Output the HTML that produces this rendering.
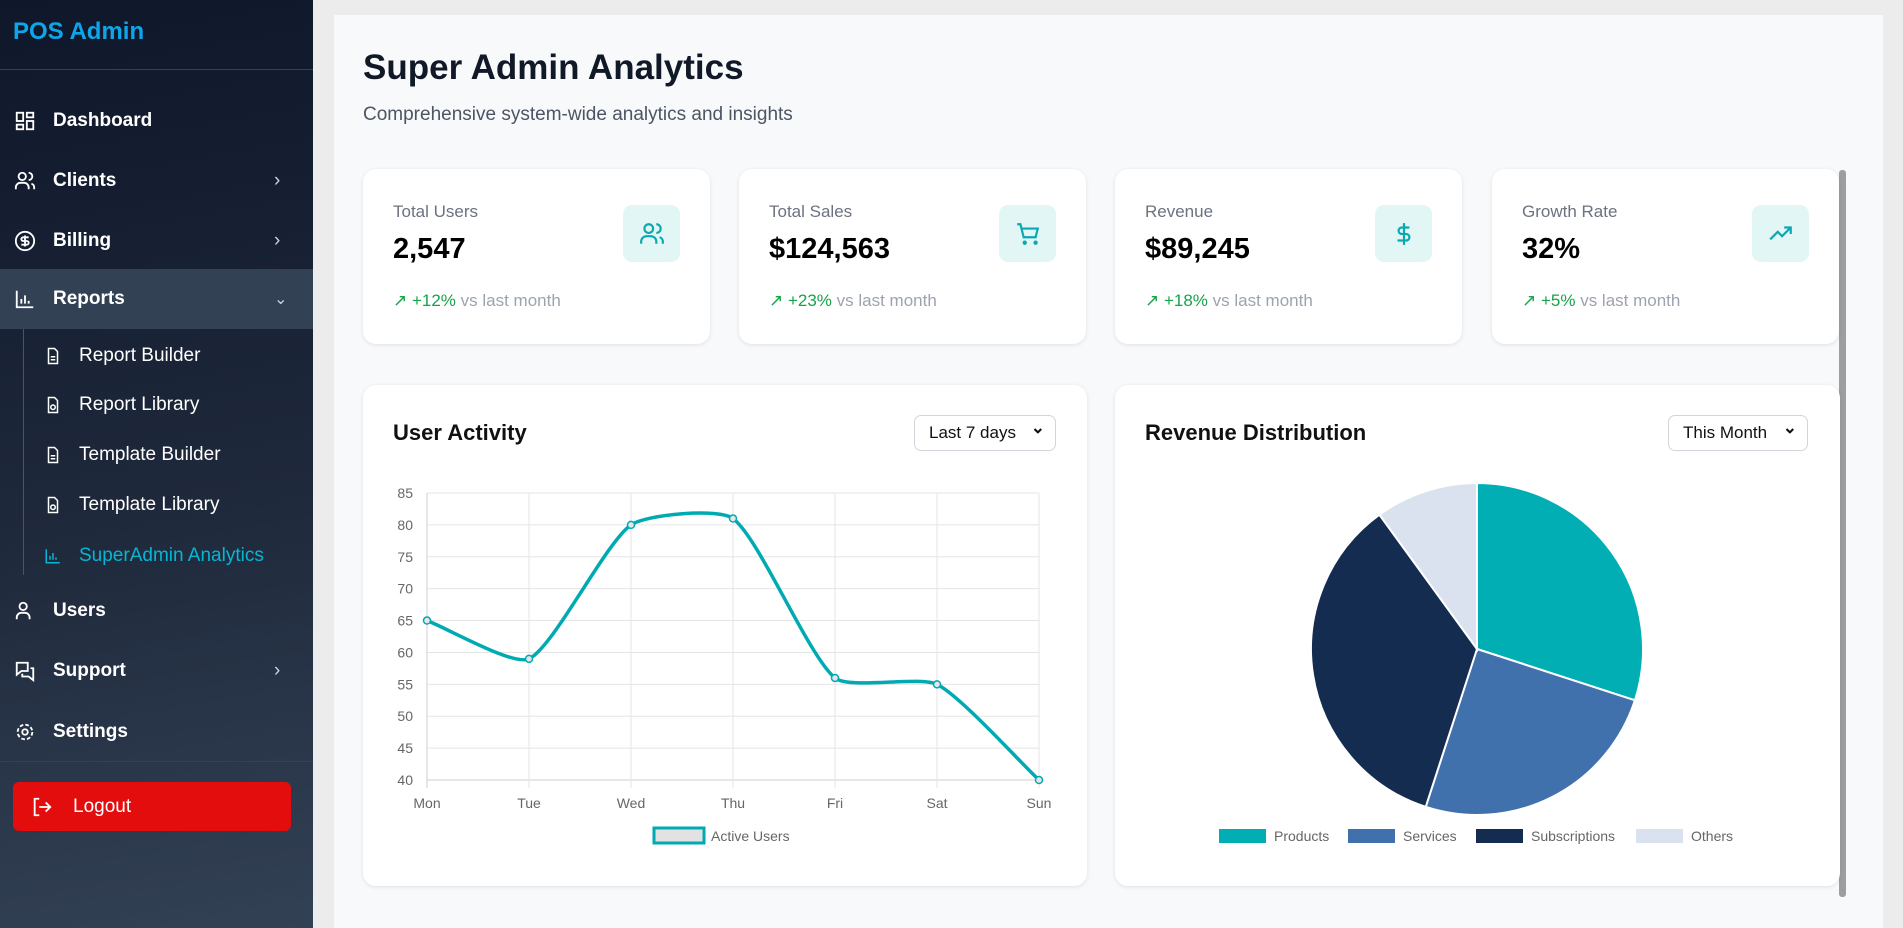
<!DOCTYPE html>
<html><head><meta charset="utf-8"><style>
*{box-sizing:border-box;margin:0;padding:0}
body{width:1903px;height:928px;overflow:hidden;background:#ececec;font-family:"Liberation Sans",sans-serif;position:relative}
.abs{position:absolute}
#sidebar{left:0;top:0;width:313px;height:928px;background:linear-gradient(170deg,#0f172a 0%,#1e293b 55%,#334155 100%)}
.nav{position:absolute;left:0;width:313px;color:#fff;font-weight:bold;font-size:19px;display:flex;align-items:center}
.nav svg{position:absolute;left:14px}
.nav span.t{position:absolute;left:53px}
.chev{position:absolute;left:274px;color:#cbd5e1;font-weight:normal}
.sub{position:absolute;left:44px;color:#fff;font-size:19px;display:flex;align-items:center}
.sub span{position:absolute;left:35px;white-space:nowrap}
.card{position:absolute;background:#fff;border-radius:13px;box-shadow:0 1px 4px rgba(0,0,0,.1)}
.lbl{position:absolute;left:30px;top:33px;color:#6b7280;font-size:17px}
.val{position:absolute;left:30px;top:64px;color:#000;font-size:29px;font-weight:bold}
.trend{position:absolute;left:30px;top:122px;font-size:17px;color:#9ca3af;white-space:nowrap}
.trend b{color:#16a34a;font-weight:normal}
.ib{position:absolute;left:260px;top:36px;width:57px;height:57px;border-radius:9px;background:#e3f6f6;display:flex;align-items:center;justify-content:center}
.sel{position:absolute;border:1px solid #d1d5db;border-radius:7px;background:#fff;font-size:17px;color:#111;padding:0 0 0 14px;display:flex;align-items:center}
.sel:after{content:"⌄";position:absolute;right:10px;top:2px;font-size:17px;font-weight:bold}
</style></head><body>
<div id="sidebar" class="abs">
 <div class="abs" style="left:13px;top:18px;color:#0ea5e9;font-weight:bold;font-size:24px">POS Admin</div>
 <div class="abs" style="left:0;top:69px;width:313px;height:1px;background:#334155"></div>
 <div class="nav" style="top:108px;height:26px"><svg width="22" height="22" viewBox="0 0 24 24" fill="none" stroke="#fff" stroke-width="2"><rect x="3" y="3" width="7" height="9"/><rect x="14" y="3" width="7" height="5"/><rect x="14" y="12" width="7" height="9"/><rect x="3" y="16" width="7" height="5"/></svg><span class="t">Dashboard</span></div>
 <div class="nav" style="top:168px;height:26px"><svg width="22" height="22" viewBox="0 0 24 24" fill="none" stroke="#fff" stroke-width="2"><circle cx="9" cy="7" r="4"/><path d="M2 21v-2a5 5 0 0 1 5-5h4a5 5 0 0 1 5 5v2M16 3a4 4 0 0 1 0 8M22 21v-2a4 4 0 0 0-3-4"/></svg><span class="t">Clients</span><span class="chev">›</span></div>
 <div class="nav" style="top:228px;height:26px"><svg width="22" height="22" viewBox="0 0 24 24" fill="none" stroke="#fff" stroke-width="2"><circle cx="12" cy="12" r="10"/><path d="M16 8h-6a2 2 0 0 0 0 4h4a2 2 0 0 1 0 4H8M12 6v12"/></svg><span class="t">Billing</span><span class="chev">›</span></div>
 <div class="nav" style="top:269px;height:60px;background:#334155"><svg width="22" height="22" viewBox="0 0 24 24" fill="none" stroke="#fff" stroke-width="2"><path d="M3 3v18h18M8 17v-5M12 17V8M16 17v-3"/></svg><span class="t">Reports</span><span class="chev" style="font-size:16px">⌄</span></div>
 <div class="abs" style="left:23px;top:329px;width:1px;height:246px;background:#475569"></div>
 <div class="sub" style="top:344px;height:24px"><svg width="18" height="20" viewBox="0 0 24 24" fill="none" stroke="#fff" stroke-width="2"><path d="M14 2H6v20h12V6zM9 13h6M9 17h6"/></svg><span>Report Builder</span></div>
 <div class="sub" style="top:393px;height:24px"><svg width="18" height="20" viewBox="0 0 24 24" fill="none" stroke="#fff" stroke-width="2"><path d="M14 2H6v20h12V6z"/><circle cx="12" cy="15" r="3"/></svg><span>Report Library</span></div>
 <div class="sub" style="top:443px;height:24px"><svg width="18" height="20" viewBox="0 0 24 24" fill="none" stroke="#fff" stroke-width="2"><path d="M14 2H6v20h12V6zM9 13h6M9 17h6"/></svg><span>Template Builder</span></div>
 <div class="sub" style="top:493px;height:24px"><svg width="18" height="20" viewBox="0 0 24 24" fill="none" stroke="#fff" stroke-width="2"><path d="M14 2H6v20h12V6z"/><circle cx="12" cy="15" r="3"/></svg><span>Template Library</span></div>
 <div class="sub" style="top:544px;height:24px;color:#06b6d4"><svg width="18" height="18" viewBox="0 0 24 24" fill="none" stroke="#06b6d4" stroke-width="2"><path d="M3 3v18h18M8 17v-5M12 17V8M16 17v-3"/></svg><span>SuperAdmin Analytics</span></div>
 <div class="nav" style="top:598px;height:26px"><svg width="22" height="22" viewBox="0 0 24 24" fill="none" stroke="#fff" stroke-width="2"><circle cx="10" cy="7" r="4"/><path d="M3 21v-2a5 5 0 0 1 5-5h4a5 5 0 0 1 5 5v2"/></svg><span class="t">Users</span></div>
 <div class="nav" style="top:658px;height:26px"><svg width="22" height="22" viewBox="0 0 24 24" fill="none" stroke="#fff" stroke-width="2"><path d="M3 3h12v9H8l-5 4zM9 15v3h7l5 4V9h-3"/></svg><span class="t">Support</span><span class="chev">›</span></div>
 <div class="nav" style="top:719px;height:26px"><svg width="22" height="22" viewBox="0 0 24 24" fill="none" stroke="#fff" stroke-width="2"><circle cx="12" cy="12" r="3"/><circle cx="12" cy="12" r="8" stroke-dasharray="4 2.3"/></svg><span class="t">Settings</span></div>
 <div class="abs" style="left:0;top:761px;width:313px;height:1px;background:#334155"></div>
 <div class="abs" style="left:13px;top:782px;width:278px;height:49px;background:#e40d0d;border-radius:6px;color:#fff;font-size:19px"><svg class="abs" style="left:18px;top:14px" width="22" height="22" viewBox="0 0 24 24" fill="none" stroke="#fff" stroke-width="2"><path d="M9 3H4v18h5M16 17l5-5-5-5M21 12H9"/></svg><span class="abs" style="left:60px;top:14px">Logout</span></div>
</div>

<div class="abs" style="left:334px;top:15px;width:1549px;height:913px;background:#f8f9fb"></div>
<div class="abs" style="left:1839px;top:170px;width:7px;height:727px;background:#9e9e9e;border-radius:3px"></div>
<div class="abs" style="left:363px;top:48px;font-size:35px;font-weight:bold;color:#111827">Super Admin Analytics</div>
<div class="abs" style="left:363px;top:104px;font-size:19px;color:#4b5563">Comprehensive system-wide analytics and insights</div>

<div class="card" style="left:363px;top:169px;width:347px;height:175px"><div class="lbl">Total Users</div><div class="val">2,547</div><div class="ib"><svg width="26" height="26" viewBox="0 0 24 24" fill="none" stroke="#0aa8b0" stroke-width="2"><circle cx="9" cy="7" r="4"/><path d="M2 21v-2a5 5 0 0 1 5-5h4a5 5 0 0 1 5 5v2M16 3a4 4 0 0 1 0 8M22 21v-2a4 4 0 0 0-3-4"/></svg></div><div class="trend"><b>↗ +12%</b> vs last month</div></div>
<div class="card" style="left:739px;top:169px;width:347px;height:175px"><div class="lbl">Total Sales</div><div class="val">$124,563</div><div class="ib"><svg width="26" height="26" viewBox="0 0 24 24" fill="none" stroke="#0aa8b0" stroke-width="2"><circle cx="9" cy="20" r="1"/><circle cx="19" cy="20" r="1"/><path d="M2 3h3l3 12h11l2-8H6"/></svg></div><div class="trend"><b>↗ +23%</b> vs last month</div></div>
<div class="card" style="left:1115px;top:169px;width:347px;height:175px"><div class="lbl">Revenue</div><div class="val">$89,245</div><div class="ib"><svg width="26" height="26" viewBox="0 0 24 24" fill="none" stroke="#0aa8b0" stroke-width="2"><path d="M12 2v20M17 6H10a3 3 0 0 0 0 6h4a3 3 0 0 1 0 6H6"/></svg></div><div class="trend"><b>↗ +18%</b> vs last month</div></div>
<div class="card" style="left:1492px;top:169px;width:347px;height:175px"><div class="lbl">Growth Rate</div><div class="val">32%</div><div class="ib"><svg width="26" height="26" viewBox="0 0 24 24" fill="none" stroke="#0aa8b0" stroke-width="2"><path d="M2 17l7-7 4 4 8-8M15 6h6v6"/></svg></div><div class="trend"><b>↗ +5%</b> vs last month</div></div>

<div class="card" style="left:363px;top:385px;width:724px;height:501px">
 <div class="abs" style="left:30px;top:35px;font-size:22px;font-weight:bold;color:#111">User Activity</div>
 <div class="sel" style="left:551px;top:30px;width:142px;height:36px">Last 7 days</div>
</div>
<div class="card" style="left:1115px;top:385px;width:725px;height:501px">
 <div class="abs" style="left:30px;top:35px;font-size:22px;font-weight:bold;color:#111">Revenue Distribution</div>
 <div class="sel" style="left:553px;top:30px;width:140px;height:36px">This Month</div>
</div>

<svg id="chart" class="abs" style="left:0;top:0" width="1903" height="928"></svg>
<script>
const days=["Mon","Tue","Wed","Thu","Fri","Sat","Sun"];
const activeUsers=[65,59,80,81,56,55,40];
const yTicks=[40,45,50,55,60,65,70,75,80,85];
const pieLabels=["Products","Services","Subscriptions","Others"];
const pieValues=[30,25,35,10];
const pieColors=["#00aeb3","#4171ad","#132c4f","#dbe2ef"];

const NS="http://www.w3.org/2000/svg";
const svg=document.getElementById('chart');
function mk(t,a,p){const e=document.createElementNS(NS,t);for(const k in a)e.setAttribute(k,a[k]);(p||svg).appendChild(e);return e;}
const L=427,R=1039,T=493,B=780;
const ymin=40,ymax=85;
const xs=i=>L+(R-L)*i/(days.length-1);
const ys=v=>B-(B-T)*(v-ymin)/(ymax-ymin);
yTicks.forEach(v=>{
 const l=mk('line',{x1:L,x2:R,y1:ys(v),y2:ys(v),stroke:v===ymin?'#cfcfcf':'#e5e5e5','stroke-width':1});
 
 
 const t=mk('text',{x:L-14,y:ys(v)+5,'text-anchor':'end','font-size':14,fill:'#666','font-family':'Liberation Sans'});
 t.textContent=v;
 
 
});
days.forEach((d,i)=>{
 const l=mk('line',{x1:xs(i),x2:xs(i),y1:T,y2:B+8,stroke:i===0?'#cfcfcf':'#e5e5e5','stroke-width':1});
 
 
 const t=mk('text',{x:xs(i),y:808,'text-anchor':'middle','font-size':14,fill:'#666','font-family':'Liberation Sans'});
 t.textContent=d;
 
 
});
// Chart.js-style spline with low tension
const pts=activeUsers.map((v,i)=>[xs(i),ys(v)]);
const tn=0.2;
const cps=pts.map((p,i)=>{
 const p0=pts[Math.max(i-1,0)],p2=pts[Math.min(i+1,pts.length-1)];
 const d01=Math.hypot(p[0]-p0[0],p[1]-p0[1]),d12=Math.hypot(p2[0]-p[0],p2[1]-p[1]);
 let s01=d01/(d01+d12||1),s12=d12/(d01+d12||1);
 const fa=tn*s01,fb=tn*s12;
 return {prev:[p[0]-fa*(p2[0]-p0[0]),p[1]-fa*(p2[1]-p0[1])],next:[p[0]+fb*(p2[0]-p0[0]),p[1]+fb*(p2[1]-p0[1])]};
});
let d=`M${pts[0][0]},${pts[0][1]}`;
for(let i=0;i<pts.length-1;i++){
 const c1=cps[i].next,c2=cps[i+1].prev,p2=pts[i+1];
 d+=` C${c1[0]},${c1[1]} ${c2[0]},${c2[1]} ${p2[0]},${p2[1]}`;
}
const line=mk('path',{d:d,fill:'none',stroke:'#00aab3','stroke-width':3.5});


pts.forEach(p=>{
 const c=mk('circle',{cx:p[0],cy:p[1],r:3.5,fill:'#e6e6e6',stroke:'#00aab3','stroke-width':1.5});
 
 
});
const lb=mk('rect',{x:654,y:828,width:50,height:15,fill:'#e2e2e2',stroke:'#00aab3','stroke-width':3});


const lt=mk('text',{x:711,y:841,'font-size':14,fill:'#666','font-family':'Liberation Sans'});
lt.textContent='Active Users';



// pie
const cx=1477,cy=649,r=166;
const total=pieValues.reduce((a,b)=>a+b,0);
let a0=-Math.PI/2;
pieValues.forEach((v,i)=>{
 const a1=a0+2*Math.PI*v/total;
 const large=(a1-a0)>Math.PI?1:0;
 const p=mk('path',{d:`M${cx},${cy} L${cx+r*Math.cos(a0)},${cy+r*Math.sin(a0)} A${r},${r} 0 ${large} 1 ${cx+r*Math.cos(a1)},${cy+r*Math.sin(a1)} Z`,fill:pieColors[i],stroke:'#fff','stroke-width':2});
 
 
 a0=a1;
});
const legX=[1219,1348,1476,1636];
pieLabels.forEach((n,i)=>{
 const s=mk('rect',{x:legX[i],y:829,width:47,height:14,fill:pieColors[i]});
 
 
 const t=mk('text',{x:legX[i]+55,y:841,'font-size':14,fill:'#666','font-family':'Liberation Sans'});
 t.textContent=n;
 
 
});
</script>
</body></html>
